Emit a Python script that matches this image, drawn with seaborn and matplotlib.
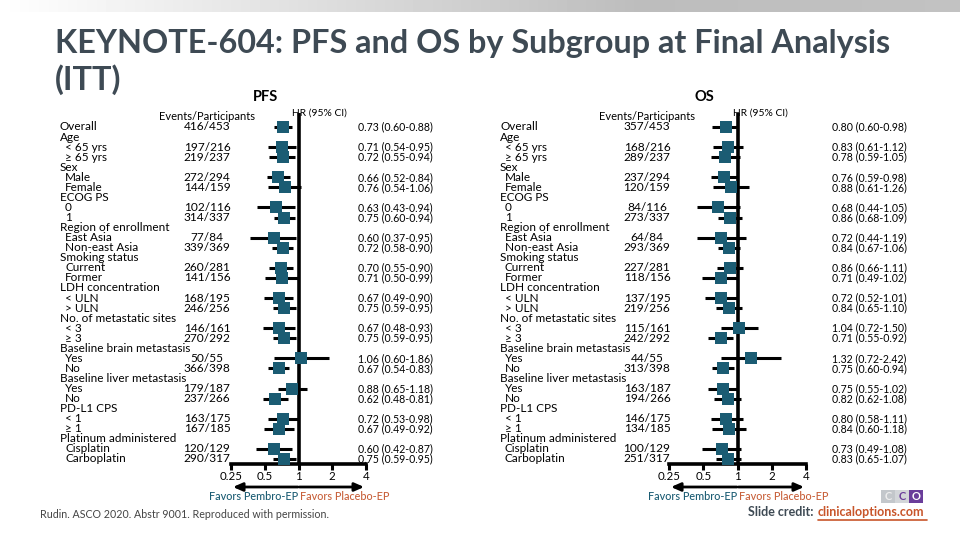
import numpy as np
import pandas as pd
import matplotlib
matplotlib.use("Agg")
import matplotlib.pyplot as plt
import seaborn as sns
from matplotlib.transforms import blended_transform_factory as btf
from matplotlib.patches import Rectangle

# ---------------- data ----------------
row_labels = ["Overall", "Age", "< 65 yrs", "\u2265 65 yrs", "Sex", "Male", "Female",
              "ECOG PS", "0", "1", "Region of enrollment", "East Asia", "Non-east Asia",
              "Smoking status", "Current", "Former", "LDH concentration", "< ULN", "> ULN",
              "No. of metastatic sites", "< 3", "\u2265 3", "Baseline brain metastasis",
              "Yes", "No", "Baseline liver metastasis", "Yes", "No", "PD-L1 CPS",
              "< 1", "\u2265 1", "Platinum administered", "Cisplatin", "Carboplatin"]
header_rows = [0, 1, 4, 7, 10, 13, 16, 19, 22, 25, 28, 31]
data_rows = [0, 2, 3, 5, 6, 8, 9, 11, 12, 14, 15, 17, 18, 20, 21, 23, 24, 26, 27, 29, 30, 32, 33]

pfs_events = ["416/453", "197/216", "219/237", "272/294", "144/159", "102/116", "314/337",
              "77/84", "339/369", "260/281", "141/156", "168/195", "246/256", "146/161",
              "270/292", "50/55", "366/398", "179/187", "237/266", "163/175", "167/185",
              "120/129", "290/317"]
pfs_hr = [0.73, 0.71, 0.72, 0.66, 0.76, 0.63, 0.75, 0.60, 0.72, 0.70, 0.71, 0.67, 0.75,
          0.67, 0.75, 1.06, 0.67, 0.88, 0.62, 0.72, 0.67, 0.60, 0.75]
pfs_lo = [0.60, 0.54, 0.55, 0.52, 0.54, 0.43, 0.60, 0.37, 0.58, 0.55, 0.50, 0.49, 0.59,
          0.48, 0.59, 0.60, 0.54, 0.65, 0.48, 0.53, 0.49, 0.42, 0.59]
pfs_hi = [0.88, 0.95, 0.94, 0.84, 1.06, 0.94, 0.94, 0.95, 0.90, 0.90, 0.99, 0.90, 0.95,
          0.93, 0.95, 1.86, 0.83, 1.18, 0.81, 0.98, 0.92, 0.87, 0.95]

os_events = ["357/453", "168/216", "289/237", "237/294", "120/159", "84/116", "273/337",
             "64/84", "293/369", "227/281", "118/156", "137/195", "219/256", "115/161",
             "242/292", "44/55", "313/398", "163/187", "194/266", "146/175", "134/185",
             "100/129", "251/317"]
os_hr = [0.80, 0.83, 0.78, 0.76, 0.88, 0.68, 0.86, 0.72, 0.84, 0.86, 0.71, 0.72, 0.84,
         1.04, 0.71, 1.32, 0.75, 0.75, 0.82, 0.80, 0.84, 0.73, 0.83]
os_lo = [0.60, 0.61, 0.59, 0.59, 0.61, 0.44, 0.68, 0.44, 0.67, 0.66, 0.49, 0.52, 0.65,
         0.72, 0.55, 0.72, 0.60, 0.55, 0.62, 0.58, 0.60, 0.49, 0.65]
os_hi = [0.98, 1.12, 1.05, 0.98, 1.26, 1.05, 1.09, 1.19, 1.06, 1.11, 1.02, 1.01, 1.10,
         1.50, 0.92, 2.42, 0.94, 1.02, 1.08, 1.11, 1.18, 1.08, 1.07]

tick_values = [0.25, 0.5, 1, 2, 4]
tick_labels = ["0.25", "0.5", "1", "2", "4"]

# ---------------- style ----------------
sns.set_theme(style="white")
plt.rcParams["font.family"] = ["Lato", "DejaVu Sans"]

W, H = 960, 540
fig = plt.figure(figsize=(9.6, 5.4), dpi=100)
fig.patch.set_facecolor("white")

TEAL = "#1b5c73"
ORANGE = "#c8603a"
TITLE_C = "#3e4a54"
LAB_FS = 8.5
EV_FS = 8.6
HR_FS = 7.6


def fx(px):
    return px / W


def fy(py):
    return 1 - py / H


# top gradient band
gax = fig.add_axes([0, fy(12), 1, 12 / H])
grad = np.concatenate([np.linspace(1.0, 0.74, 640), np.linspace(0.74, 0.76, 320)])
gax.imshow(np.tile(grad, (2, 1)), cmap="gray", vmin=0, vmax=1, aspect="auto")
gax.axis("off")

# title
fig.text(fx(55), fy(44), "KEYNOTE-604: PFS and OS by Subgroup at Final Analysis",
         fontsize=23.3, fontweight="bold", color=TITLE_C, va="center", ha="left")
fig.text(fx(55), fy(80), "(ITT)", fontsize=23.3, fontweight="bold", color=TITLE_C,
         va="center", ha="left")

ROW0, DROW = 127, 10.06
AX_TOP, AX_BOT = 113, 464


def panel(left_px, right_px, label_x, events_x, hr_x, hdr_hr_x, title_x, events, hr, lo, hi, name):
    ax = fig.add_axes([fx(left_px), fy(AX_BOT), fx(right_px - left_px), (AX_BOT - AX_TOP) / H])
    df = pd.DataFrame({"row": data_rows, "hr": hr, "lo": lo, "hi": hi, "events": events})
    ax.set_xscale("log", base=2)
    ax.hlines(df["row"], df["lo"], df["hi"], color="black", lw=2.2, zorder=2)
    sns.scatterplot(data=df, x="hr", y="row", marker="s", s=82, color=TEAL,
                    edgecolor=TEAL, linewidth=0, ax=ax, legend=False, zorder=3)
    ax.axvline(1, color="black", lw=2.6, zorder=1)
    ax.set_xlim(0.25, 4)
    ax.set_ylim((AX_BOT - ROW0) / DROW, (AX_TOP - ROW0) / DROW)
    ax.set_xticks(tick_values)
    ax.set_xticklabels(tick_labels)
    ax.xaxis.set_minor_locator(matplotlib.ticker.NullLocator())
    ax.set_yticks([])
    ax.set_xlabel("")
    ax.set_ylabel("")
    for s in ["left", "right", "top"]:
        ax.spines[s].set_visible(False)
    ax.spines["bottom"].set_linewidth(2.6)
    ax.spines["bottom"].set_color("black")
    ax.tick_params(axis="x", direction="out", length=4, width=2.2, color="black",
                   labelsize=8.3, pad=1, labelcolor="black", bottom=True)
    ax.set_facecolor("none")
    ax.patch.set_alpha(0)

    tr = btf(fig.transFigure, ax.transData)
    for i, lab in enumerate(row_labels):
        x = label_x if i in header_rows else label_x + 5
        ax.text(fx(x), i, lab, transform=tr, fontsize=LAB_FS, ha="left", va="center",
                color="black", clip_on=False)
    for r, ev, h, l, u in zip(data_rows, events, hr, lo, hi):
        ax.text(fx(events_x), r, ev, transform=tr, fontsize=EV_FS, ha="center",
                va="center", color="black", clip_on=False)
        ax.text(fx(hr_x), r, f"{h:.2f} ({l:.2f}-{u:.2f})", transform=tr, fontsize=HR_FS,
                ha="left", va="center", color="black", clip_on=False)

    fig.text(fx(events_x), fy(116), "Events/Participants", fontsize=8, ha="center",
             va="center", color="black")
    fig.text(fx(hdr_hr_x), fy(113), "HR (95% CI)", fontsize=7.4, ha="left",
             va="center", color="black")
    fig.text(fx(title_x), fy(97), name, fontsize=10.5, fontweight="bold", ha="center",
             va="center", color="black")

    # arrows
    tra = btf(ax.transData, fig.transFigure)
    ya = fy(487)
    astyle = dict(arrowstyle="-|>,head_length=0.8,head_width=0.35", mutation_scale=7,
                  lw=2.0, color="black", shrinkA=0, shrinkB=0)
    ax.annotate("", xy=(0.26, ya), xytext=(0.99, ya), xycoords=tra, textcoords=tra,
                arrowprops=astyle, annotation_clip=False)
    ax.annotate("", xy=(3.85, ya), xytext=(1.02, ya), xycoords=tra, textcoords=tra,
                arrowprops=astyle, annotation_clip=False)
    yf = fy(497)
    ax.text(0.985, yf, "Favors Pembro-EP", transform=tra, fontsize=7.8, ha="right",
            va="center", color=TEAL, fontweight="medium")
    ax.text(1.03, yf, "Favors Placebo-EP", transform=tra, fontsize=7.8, ha="left",
            va="center", color=ORANGE, fontweight="medium")
    return ax


panel(231, 366, 60, 207, 358, 292, 265, pfs_events, pfs_hr, pfs_lo, pfs_hi, "PFS")
panel(669, 806, 500, 647, 832, 733, 704, os_events, os_hr, os_lo, os_hi, "OS")

# footer
fig.text(fx(40), fy(514), "Rudin. ASCO 2020. Abstr 9001. Reproduced with permission.",
         fontsize=7.7, ha="left", va="center", color="#444444")
fig.text(fx(816), fy(512), "Slide credit: ", fontsize=9, fontweight="bold",
         ha="right", va="center", color=TITLE_C)
fig.text(fx(818), fy(512), "clinicaloptions.com", fontsize=9, fontweight="bold",
         ha="left", va="center", color="#c8552a")
fig.add_artist(plt.Line2D([fx(818), fx(927)], [fy(519.5), fy(519.5)],
                          transform=fig.transFigure, color="#c8552a", lw=1.2))

# CCO logo
for x0, w, c in [(881, 14, "#c3c7cb"), (895, 14, "#d3d6d9"), (909, 14, "#6a3d9a")]:
    fig.add_artist(Rectangle((fx(x0), fy(503)), fx(w), 13 / H, transform=fig.transFigure,
                             facecolor=c, edgecolor="none"))
for x0, ch, c in [(888, "C", "#eeeeee"), (902, "C", "#6a3d9a"), (916, "O", "white")]:
    fig.text(fx(x0), fy(496.5), ch, fontsize=8, fontweight="bold", ha="center",
             va="center", color=c)

fig.savefig("out.png", dpi=100, facecolor="white")
